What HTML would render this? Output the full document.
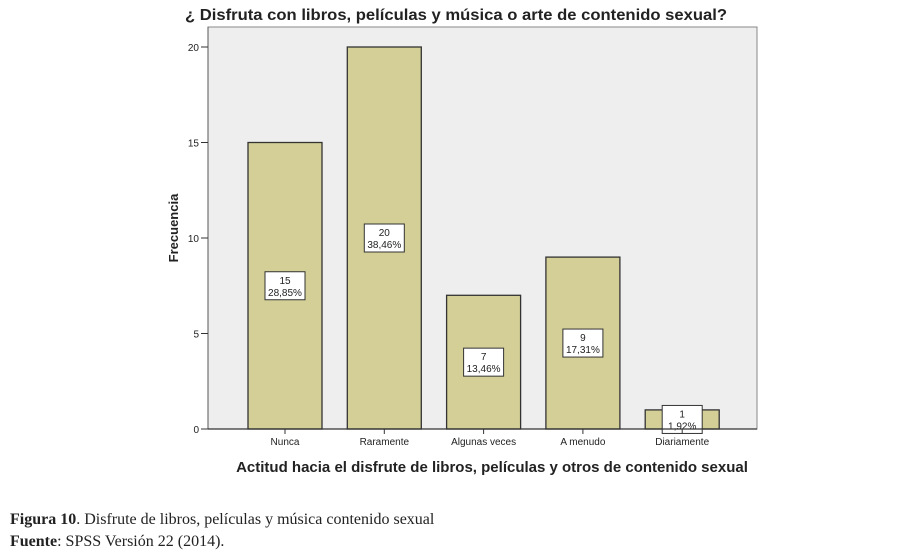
<!DOCTYPE html>
<html><head><meta charset="utf-8"><style>
body{margin:0;background:#fff;width:915px;height:558px;overflow:hidden;font-family:"Liberation Sans",sans-serif}
.cap{position:absolute;left:10px;font-family:"Liberation Serif",serif;font-size:16px;color:#222}
</style></head><body>
<svg width="915" height="500" style="position:absolute;left:0;top:0">
<text x="185" y="20" font-size="16" font-weight="bold" fill="#222" textLength="542" lengthAdjust="spacingAndGlyphs">¿ Disfruta con  libros,  películas y música o arte de contenido sexual?</text>
<rect x="208" y="27" width="549" height="402" fill="#eeeeee" stroke="#888"/>
<g id="bars"></g>
<g id="yaxis"></g>
<g id="xaxis"></g>
<text transform="translate(178,228) rotate(-90)" text-anchor="middle" font-size="13" font-weight="bold" fill="#222">Frecuencia</text>
<text x="492" y="472" text-anchor="middle" font-size="15" font-weight="bold" fill="#222">Actitud hacia el disfrute de libros, películas y otros de contenido sexual</text>
</svg>
<div class="cap" style="top:511px"><b>Figura 10</b>. Disfrute de libros, películas y música contenido sexual</div>
<div class="cap" style="top:533px"><b>Fuente</b>: SPSS Versión 22 (2014).</div>
<script>
const categories=["Nunca","Raramente","Algunas veces","A menudo","Diariamente"];
const counts=[15,20,7,9,1];
const percents=["28,85%","38,46%","13,46%","17,31%","1,92%"];
const yTicks=[0,5,10,15,20];
const NS="http://www.w3.org/2000/svg";
const y0=429,yScale=(382/20);
const y=v=>y0-v*yScale;
const x=i=>285+i*99.3;
function mk(t,a,p){const e=document.createElementNS(NS,t);for(const k in a)e.setAttribute(k,a[k]);p.appendChild(e);return e;}
const bars=document.getElementById('bars'),ya=document.getElementById('yaxis'),xa=document.getElementById('xaxis');
counts.forEach((v,i)=>{
 const r=mk('rect',{x:x(i)-37,y:y(v),width:74,height:v*yScale,fill:'#d3cf96',stroke:'#333','stroke-width':1.3},bars);
 
 
 const my=y(v/2);
 const b=mk('rect',{x:x(i)-20,y:my-14,width:40,height:28,fill:'#fff',stroke:'#333'},bars);
 
 
 const t1=mk('text',{x:x(i),y:my-2,'text-anchor':'middle','font-size':10,fill:'#222'},bars);t1.textContent=v;
 
 
 const t2=mk('text',{x:x(i),y:my+10,'text-anchor':'middle','font-size':10,fill:'#222'},bars);t2.textContent=percents[i];
 
 
 const tk=mk('line',{x1:x(i),x2:x(i),y1:y0,y2:y0+5,stroke:'#333'},xa);
 
 
 const tl=mk('text',{x:x(i),y:y0+16,'text-anchor':'middle','font-size':10,fill:'#222'},xa);tl.textContent=categories[i];
 
 
});
mk('line',{x1:208,x2:757,y1:y0,y2:y0,stroke:'#333','stroke-width':1.3},xa);
mk('line',{x1:208,x2:208,y1:27,y2:y0,stroke:'#555'},ya);
yTicks.forEach(v=>{
 const l=mk('line',{x1:201,x2:208,y1:y(v),y2:y(v),stroke:'#333'},ya);
 
 
 const t=mk('text',{x:199,y:y(v)+4,'text-anchor':'end','font-size':10,fill:'#222'},ya);t.textContent=v;
 
 
});
</script>
</body></html>
